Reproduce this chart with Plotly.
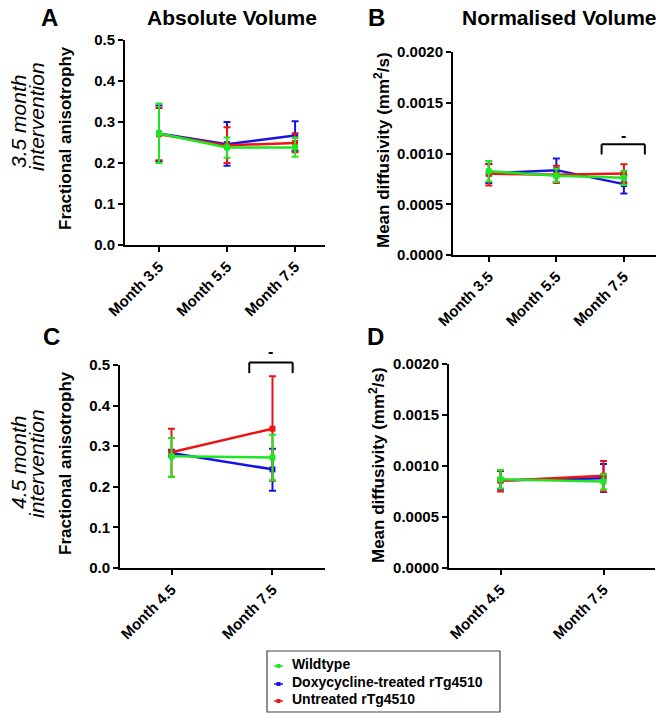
import plotly.graph_objects as go

# ---------------- data ----------------
months_35 = ["Month 3.5", "Month 5.5", "Month 7.5"]
months_45 = ["Month 4.5", "Month 7.5"]

groups = ["Wildtype", "Doxycycline-treated rTg4510", "Untreated rTg4510"]
colors = {"Wildtype": "#1fe61f", "Doxycycline-treated rTg4510": "#1414e6", "Untreated rTg4510": "#ee1414"}
draw_order = ["Doxycycline-treated rTg4510", "Untreated rTg4510", "Wildtype"]

# Panel A: fractional anisotropy, 3.5 month intervention (mean, upper, lower)
fa_35_mean = {"Wildtype": [0.272, 0.238, 0.238],
              "Doxycycline-treated rTg4510": [0.272, 0.246, 0.267],
              "Untreated rTg4510": [0.270, 0.243, 0.249]}
fa_35_hi = {"Wildtype": [0.345, 0.262, 0.262],
            "Doxycycline-treated rTg4510": [0.340, 0.300, 0.302],
            "Untreated rTg4510": [0.334, 0.287, 0.272]}
fa_35_lo = {"Wildtype": [0.200, 0.213, 0.215],
            "Doxycycline-treated rTg4510": [0.205, 0.193, 0.230],
            "Untreated rTg4510": [0.207, 0.200, 0.226]}

# Panel B: mean diffusivity, 3.5 month intervention
md_35_mean = {"Wildtype": [0.000826, 0.000780, 0.000760],
              "Doxycycline-treated rTg4510": [0.000803, 0.000836, 0.000698],
              "Untreated rTg4510": [0.000800, 0.000790, 0.000803]}
md_35_hi = {"Wildtype": [0.000925, 0.000850, 0.000830],
            "Doxycycline-treated rTg4510": [0.000900, 0.000950, 0.000785],
            "Untreated rTg4510": [0.000895, 0.000880, 0.000895]}
md_35_lo = {"Wildtype": [0.000725, 0.000720, 0.000690],
            "Doxycycline-treated rTg4510": [0.000710, 0.000720, 0.000607],
            "Untreated rTg4510": [0.000685, 0.000710, 0.000710]}

# Panel C: fractional anisotropy, 4.5 month intervention
fa_45_mean = {"Wildtype": [0.275, 0.272],
              "Doxycycline-treated rTg4510": [0.283, 0.243],
              "Untreated rTg4510": [0.285, 0.343]}
fa_45_hi = {"Wildtype": [0.320, 0.328],
            "Doxycycline-treated rTg4510": [0.291, 0.294],
            "Untreated rTg4510": [0.343, 0.472]}
fa_45_lo = {"Wildtype": [0.224, 0.216],
            "Doxycycline-treated rTg4510": [0.275, 0.190],
            "Untreated rTg4510": [0.225, 0.215]}

# Panel D: mean diffusivity, 4.5 month intervention
md_45_mean = {"Wildtype": [0.000870, 0.000848],
              "Doxycycline-treated rTg4510": [0.000860, 0.000880],
              "Untreated rTg4510": [0.000855, 0.000904]}
md_45_hi = {"Wildtype": [0.000960, 0.000920],
            "Doxycycline-treated rTg4510": [0.000950, 0.001020],
            "Untreated rTg4510": [0.000955, 0.001050]}
md_45_lo = {"Wildtype": [0.000780, 0.000770],
            "Doxycycline-treated rTg4510": [0.000770, 0.000745],
            "Untreated rTg4510": [0.000750, 0.000750]}

fa_ticks = [0.0, 0.1, 0.2, 0.3, 0.4, 0.5]
md_ticks = [0.0, 0.0005, 0.0010, 0.0015, 0.0020]

# significance brackets (category-index units, value units)
bracket_B = dict(x0=1.67, x1=2.31, top=0.00109, foot=0.00099, label_y=0.00118)
bracket_C = dict(x0=0.77, x1=1.20, top=0.506, foot=0.480, label_y=0.530)

# ---------------- figure ----------------
FONT = "Liberation Sans, Arial, sans-serif"
PAGE_MARGIN = 8            # default body margin of the html page
W, H = 664 - PAGE_MARGIN, 713 - PAGE_MARGIN
fig = go.Figure()

panels = [
    ("x", "y", months_35, fa_35_mean, fa_35_hi, fa_35_lo),
    ("x2", "y2", months_35, md_35_mean, md_35_hi, md_35_lo),
    ("x3", "y3", months_45, fa_45_mean, fa_45_hi, fa_45_lo),
    ("x4", "y4", months_45, md_45_mean, md_45_hi, md_45_lo),
]
for xa, ya, cats, mean, hi, lo in panels:
    for g in draw_order:
        m = mean[g]
        up = [h - v for h, v in zip(hi[g], m)]
        dn = [v - l for v, l in zip(m, lo[g])]
        fig.add_trace(go.Scatter(
            x=cats, y=m, xaxis=xa, yaxis=ya, mode="lines+markers",
            line=dict(color=colors[g], width=2.5),
            marker=dict(color=colors[g], size=6, symbol="square"),
            error_y=dict(type="data", symmetric=False, array=up, arrayminus=dn,
                         color=colors[g], thickness=2, width=3.5),
            showlegend=False, name=g))

def px_x(p):
    return (p - PAGE_MARGIN) / W

def px_y(p):
    return 1 - (p - PAGE_MARGIN) / H

tickfont = dict(family=FONT, size=15, color="black", weight="bold")
axis_common = dict(showline=True, linecolor="black", linewidth=2, ticks="outside",
                   tickcolor="black", tickwidth=2, ticklen=5, showgrid=False,
                   zeroline=False, tickfont=tickfont, automargin=False)

layout = dict(
    template="none", showlegend=False,
    width=W, height=H, margin=dict(l=0, r=0, t=0, b=0, autoexpand=False),
    paper_bgcolor="white", plot_bgcolor="white",
    font=dict(family=FONT, color="black"),
    xaxis=dict(domain=[px_x(125), px_x(325)], anchor="y", type="category",
               range=[-0.5, 2.44], tickangle=-45, **axis_common),
    yaxis=dict(domain=[px_y(245), px_y(40)], anchor="x", range=[0, 0.5],
               tickvals=fa_ticks, tickformat=".1f", **axis_common),
    xaxis2=dict(domain=[px_x(453), px_x(657)], anchor="y2", type="category",
                range=[-0.53, 2.49], tickangle=-45, **axis_common),
    yaxis2=dict(domain=[px_y(255), px_y(52)], anchor="x2", range=[0, 0.002],
                tickvals=md_ticks, tickformat=".4f", **axis_common),
    xaxis3=dict(domain=[px_x(120), px_x(325)], anchor="y3", type="category",
                range=[-0.51, 1.52], tickangle=-45, **axis_common),
    yaxis3=dict(domain=[px_y(568), px_y(365)], anchor="x3", range=[0, 0.5],
                tickvals=fa_ticks, tickformat=".1f", **axis_common),
    xaxis4=dict(domain=[px_x(449), px_x(655)], anchor="y4", type="category",
                range=[-0.5, 1.5], tickangle=-45, **axis_common),
    yaxis4=dict(domain=[px_y(568), px_y(364)], anchor="x4", range=[0, 0.002],
                tickvals=md_ticks, tickformat=".4f", **axis_common),
)
fig.update_layout(**layout)

shapes = []
annotations = []

# bracket B (within axis range -> data refs)
b = bracket_B
for (x0, y0, x1, y1) in [(b["x0"], b["foot"], b["x0"], b["top"]),
                         (b["x0"], b["top"], b["x1"], b["top"]),
                         (b["x1"], b["top"], b["x1"], b["foot"])]:
    shapes.append(dict(type="line", xref="x2", yref="y2", x0=x0, y0=y0, x1=x1, y1=y1,
                       line=dict(color="black", width=2)))
annotations.append(dict(xref="x2", yref="y2", x=(b["x0"] + b["x1"]) / 2, y=b["label_y"],
                        text="<b>-</b>", showarrow=False, font=dict(size=16, family=FONT)))

# bracket C (extends above axis range -> domain refs for y)
c = bracket_C
rng = layout["yaxis3"]["range"]
def yfrac(v):
    return (v - rng[0]) / (rng[1] - rng[0])
for (x0, y0, x1, y1) in [(c["x0"], c["foot"], c["x0"], c["top"]),
                         (c["x0"], c["top"], c["x1"], c["top"]),
                         (c["x1"], c["top"], c["x1"], c["foot"])]:
    shapes.append(dict(type="line", xref="x3", yref="y3 domain", x0=x0, y0=yfrac(y0),
                       x1=x1, y1=yfrac(y1), line=dict(color="black", width=2)))
# label placed at the axis top and shifted up above the bracket
annotations.append(dict(xref="x3", yref="y3", x=(c["x0"] + c["x1"]) / 2,
                        y=rng[1], yshift=13, text="<b>-</b>", showarrow=False,
                        font=dict(size=16, family=FONT)))

def ann(text, x, y, size, angle=0, italic=False, bold=True, xanchor="center"):
    annotations.append(dict(xref="paper", yref="paper", x=px_x(x), y=px_y(y),
                            xanchor=xanchor, yanchor="middle", text=text,
                            textangle=angle, showarrow=False,
                            font=dict(family=FONT, size=size, color="black",
                                      weight="bold" if bold else "normal",
                                      style="italic" if italic else "normal")))

# legend (box, symbols and labels)
shapes.append(dict(type="rect", xref="paper", yref="paper",
                   x0=px_x(267), x1=px_x(500), y0=px_y(712), y1=px_y(651),
                   line=dict(color="#444444", width=1.2)))
legend_rows = [664, 682, 699]
for g, ry in zip(groups, legend_rows):
    sy = ry + 2
    shapes.append(dict(type="line", xref="paper", yref="paper",
                       x0=px_x(274), x1=px_x(283), y0=px_y(sy), y1=px_y(sy),
                       line=dict(color=colors[g], width=1.5)))
    shapes.append(dict(type="rect", xref="paper", yref="paper",
                       x0=px_x(276.5), x1=px_x(280.5), y0=px_y(sy + 2), y1=px_y(sy - 2),
                       line=dict(width=0), fillcolor=colors[g]))
    ann(g, 290, ry, 14, xanchor="left")

ann("A", 49, 17, 24)
ann("B", 376, 17, 24)
ann("C", 51, 336, 24)
ann("D", 375, 336, 24)
ann("Absolute Volume", 232, 17, 21)
ann("Normalised Volume", 559, 17, 21)
ann("3.5 month", 18, 122, 21, angle=-90, italic=True, bold=False)
ann("intervention", 36, 117, 21, angle=-90, italic=True, bold=False)
ann("4.5 month", 18, 463, 21, angle=-90, italic=True, bold=False)
ann("intervention", 36, 464, 21, angle=-90, italic=True, bold=False)
ann("Fractional anisotrophy", 65, 138, 17, angle=-90)
ann("Mean diffusivity (mm<sup>2</sup>/s)", 382, 150, 17, angle=-90)
ann("Fractional anisotrophy", 65, 463, 17, angle=-90)
ann("Mean diffusivity (mm<sup>2</sup>/s)", 377, 465, 17, angle=-90)

fig.update_layout(shapes=shapes, annotations=annotations)
fig.write_html("out.html")
